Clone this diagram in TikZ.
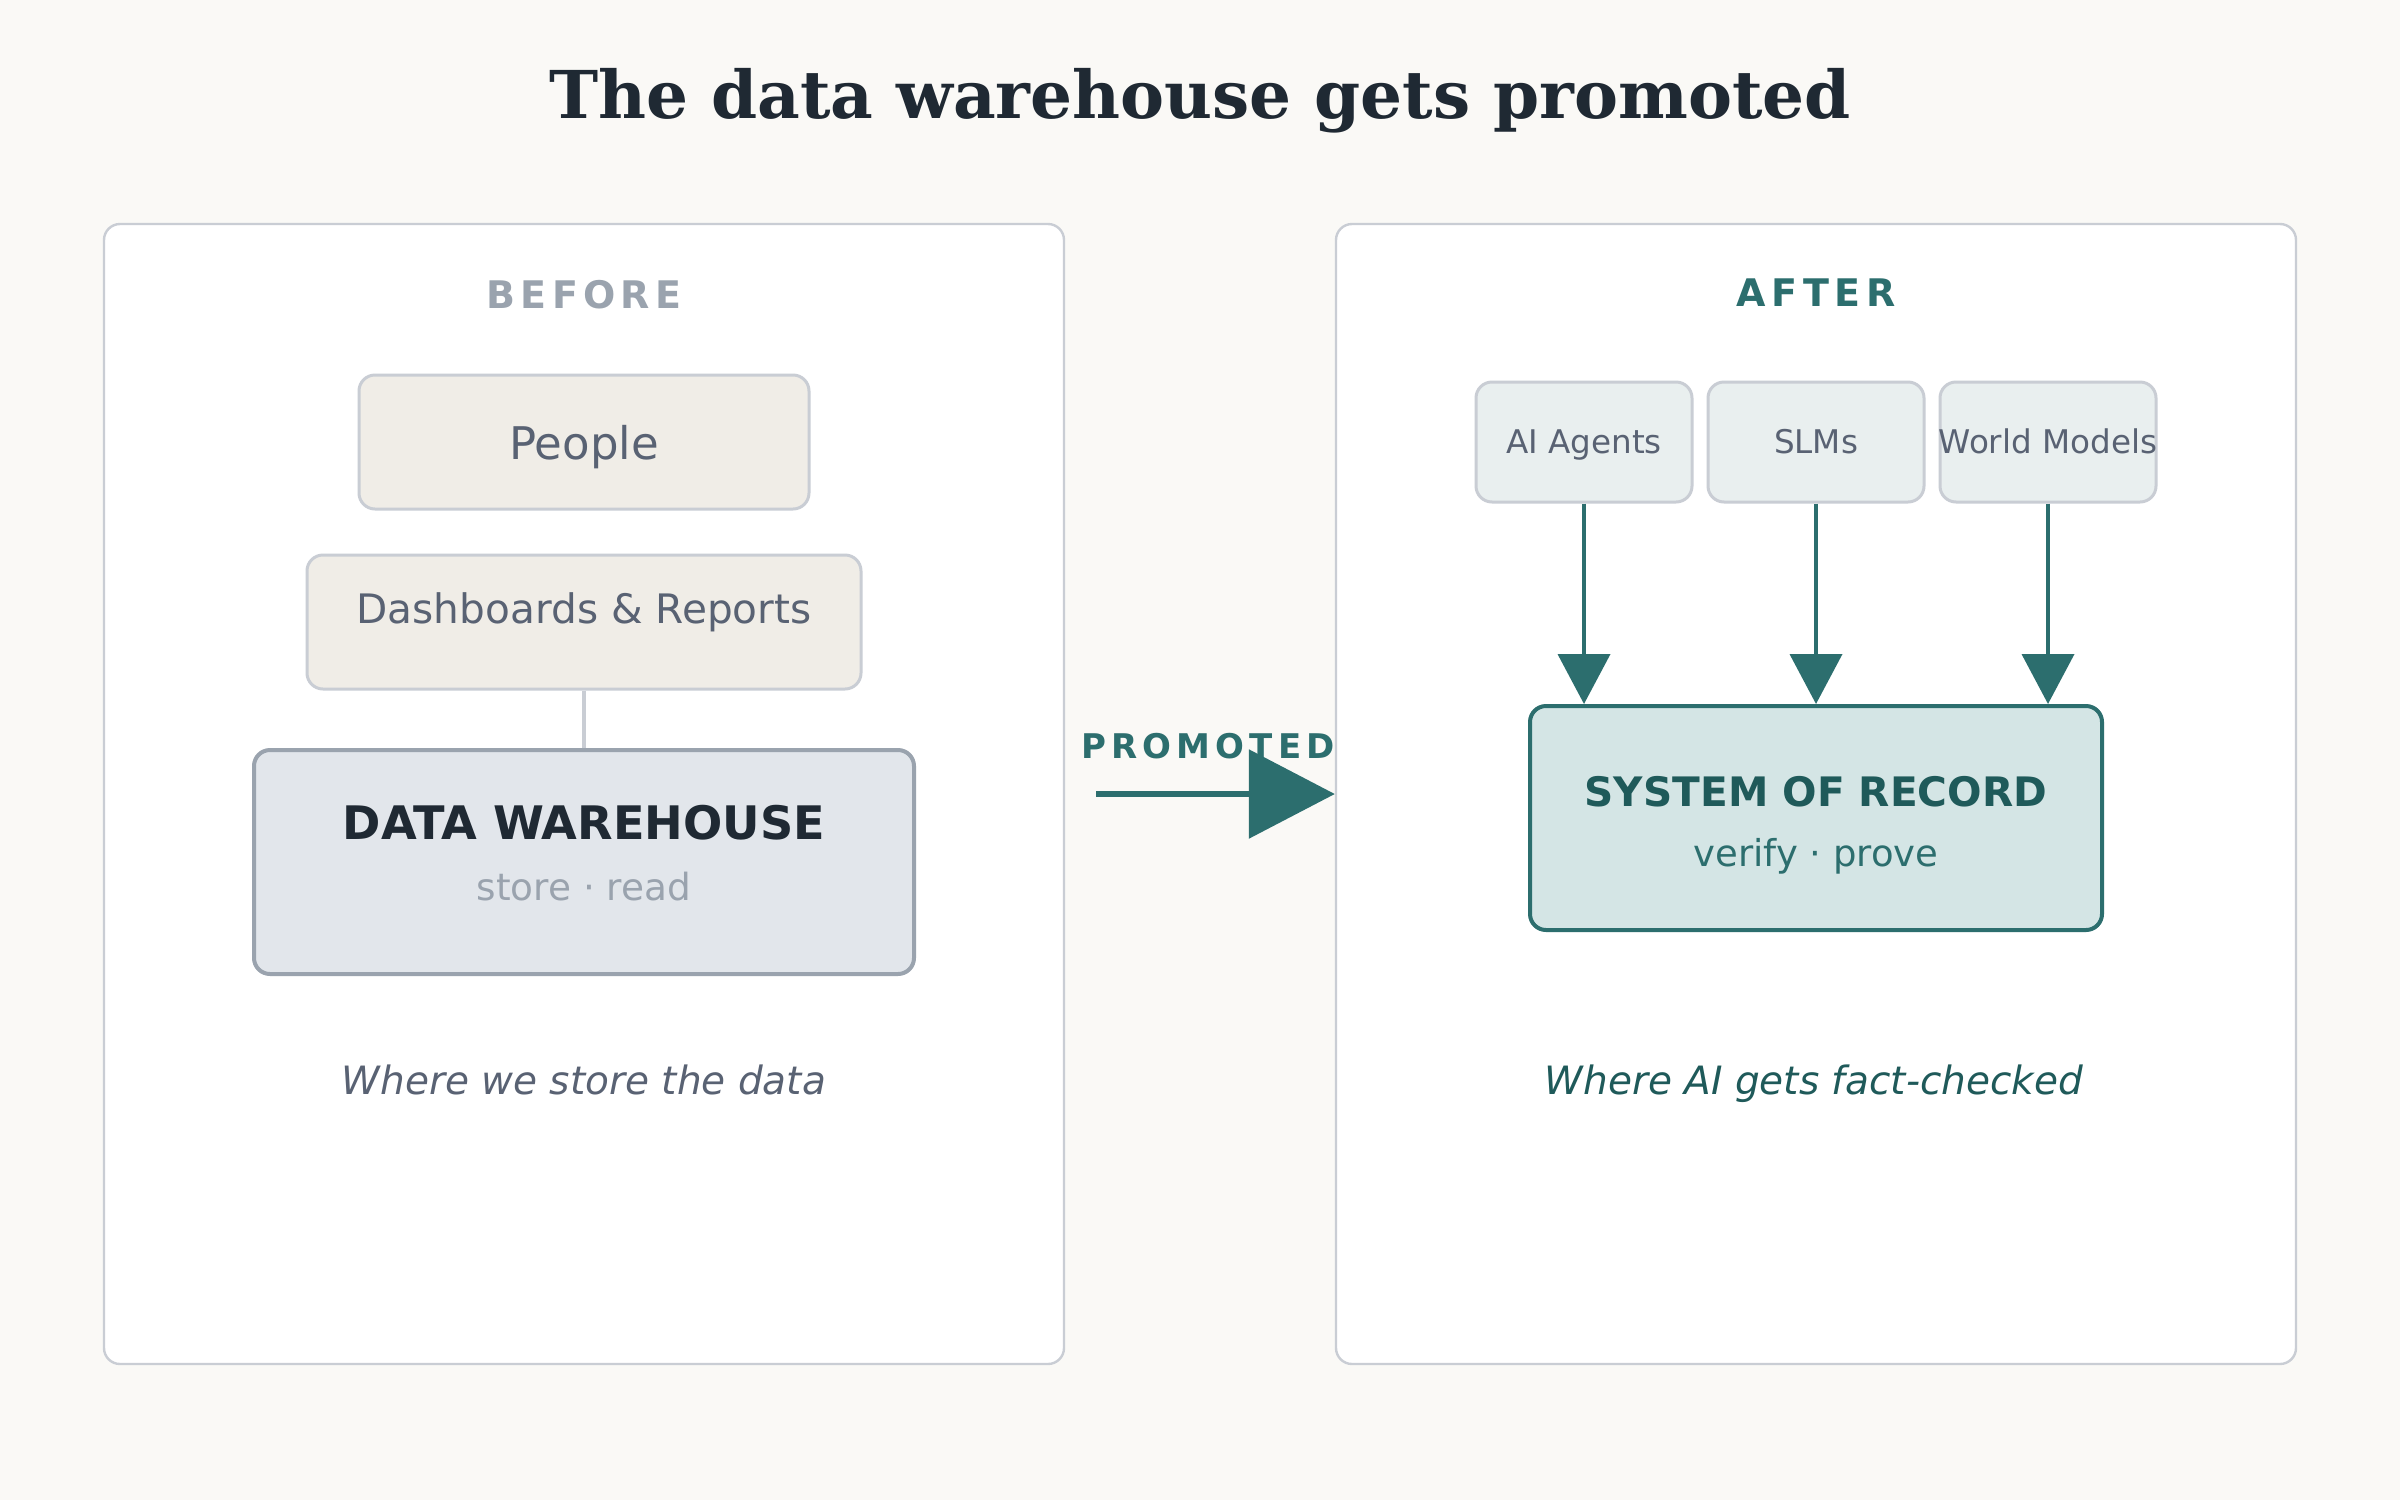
\documentclass[tikz,border=0pt]{standalone}
\usepackage{fontspec}
\setmainfont{DejaVu Sans}
\newfontfamily\titlefont{DejaVu Serif}
\usetikzlibrary{arrows.meta}
\definecolor{bgc}{HTML}{FAF9F6}
\definecolor{panelb}{HTML}{C9CDD4}
\definecolor{muted}{HTML}{9AA3AE}
\definecolor{beige}{HTML}{F0EDE7}
\definecolor{slate}{HTML}{596273}
\definecolor{dwfill}{HTML}{E2E6EB}
\definecolor{ink}{HTML}{1F2933}
\definecolor{teal}{HTML}{2C6E6E}
\definecolor{dteal}{HTML}{1F5A5A}
\definecolor{aifill}{HTML}{E9EFEF}
\definecolor{sorfill}{HTML}{D4E5E5}
\newcommand\fsz[1]{\fontsize{#1pt}{#1pt}\selectfont}
\tikzset{
  panel/.style={draw=panelb, fill=white, line width=1.2pt, rounded corners=8pt, inner sep=0pt, rectangle},
  softbox/.style={draw=panelb, fill=beige, line width=1.5pt, rounded corners=8pt, inner sep=0pt, rectangle},
  aibox/.style={draw=panelb, fill=aifill, line width=1.5pt, rounded corners=8pt, inner sep=0pt, rectangle},
  dwbox/.style={draw=muted, fill=dwfill, line width=2pt, rounded corners=8pt, inner sep=0pt, rectangle},
  sorbox/.style={draw=teal, fill=sorfill, line width=2pt, rounded corners=8pt, inner sep=0pt, rectangle},
  txt/.style={inner sep=0pt, anchor=base},
  feed/.style={draw=teal, line width=2pt, -{Triangle[length=25pt,width=26pt]}},
}
\begin{document}
\begin{tikzpicture}[x=1pt,y=-1pt]
\fill[bgc] (0,0) rectangle (1200,750);
\useasboundingbox (0,0) rectangle (1200,750);
% title
\node[txt, text=ink] (title) at (600,59) {\titlefont\bfseries\fsz{33}The data warehouse gets promoted};
% panels
\node[panel, minimum width=480pt, minimum height=570pt] (lpanel) at (292,397) {};
\node[panel, minimum width=480pt, minimum height=570pt] (rpanel) at (908,397) {};
% BEFORE
\node[txt, text=muted] (before) at (292,154) {\bfseries\fsz{19}B\kern2.65ptE\kern2.65ptF\kern2.65ptO\kern2.65ptR\kern2.65ptE};
\node[softbox, minimum width=225pt, minimum height=67pt] (people) at (292,221) {};
\node[txt, text=slate] at (292,229.5) {\fsz{22.5}People};
\node[softbox, minimum width=277pt, minimum height=67pt] (dash) at (292,311) {};
\node[txt, text=slate] at (292,311.5) {\fsz{20.3}Dashboards \& Reports};
\node[dwbox, minimum width=330pt, minimum height=112pt] (dw) at (292,431) {};
\draw[draw=panelb, line width=2pt] (dash.south) -- (dw.north);
\node[txt, text=ink] at (292,419.5) {\bfseries\fsz{23.1}DATA WAREHOUSE};
\node[txt, text=muted] at (292,450) {\fsz{18.7}store · read};
\node[txt, text=slate] at (292,547) {\itshape\fsz{19.5}Where we store the data};
% promoted arrow
\node[txt, text=teal] (prom) at (604,379) {\bfseries\fsz{17}P\kern2.6ptR\kern2.6ptO\kern2.6ptM\kern2.6ptO\kern2.6ptT\kern2.6ptE\kern2.6ptD};
\coordinate (pstart) at (548,397);
\draw[draw=teal, line width=3pt, -{Triangle[length=43pt,width=44pt]}] (pstart) -- (rpanel.west |- pstart);
% AFTER
\node[txt, text=teal] (after) at (908,153) {\bfseries\fsz{19}A\kern2.8ptF\kern2.8ptT\kern2.8ptE\kern2.8ptR};
\node[aibox, minimum width=108pt, minimum height=60pt] (ai) at (792,221) {};
\node[aibox, minimum width=108pt, minimum height=60pt] (slm) at (908,221) {};
\node[aibox, minimum width=108pt, minimum height=60pt] (wm) at (1024,221) {};
\node[txt, text=slate] at (792,226.5) {\fsz{16.3}AI Agents};
\node[txt, text=slate] at (908,226.5) {\fsz{16.3}SLMs};
\node[txt, text=slate] at (1024,226.5) {\fsz{16.3}World Models};
\node[sorbox, minimum width=286pt, minimum height=112pt] (sor) at (908,409) {};
\draw[feed] (ai.south) -- (ai.south |- sor.north);
\draw[feed] (slm.south) -- (slm.south |- sor.north);
\draw[feed] (wm.south) -- (wm.south |- sor.north);
\node[txt, text=dteal] at (908,403) {\bfseries\fsz{20.3}SYSTEM OF RECORD};
\node[txt, text=teal] at (908,433) {\fsz{18.5}verify · prove};
\node[txt, text=dteal] at (907,547) {\itshape\fsz{19.5}Where AI gets fact-checked};
\end{tikzpicture}
\end{document}
